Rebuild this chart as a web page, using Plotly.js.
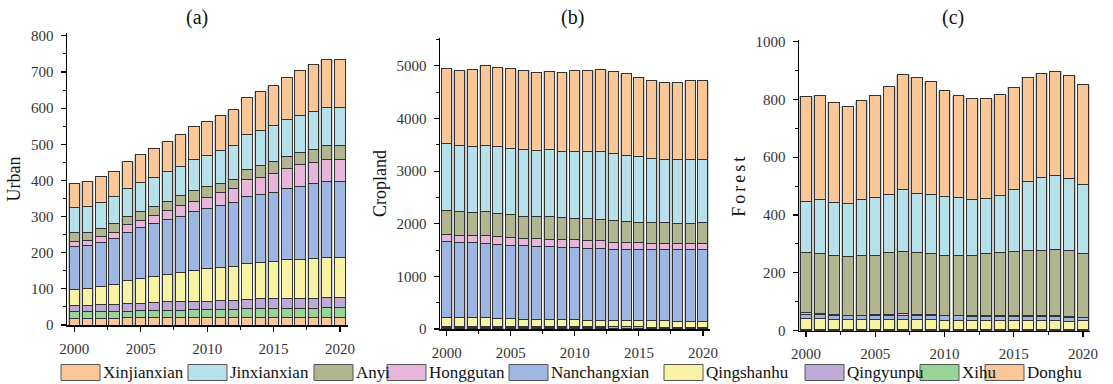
<!DOCTYPE html>
<html>
<head>
<meta charset="utf-8">
<script src="https://cdn.plot.ly/plotly-3.0.1.min.js"></script>
<style>
html, body { margin: 0; padding: 0; background: #fff; }
#chart { width: 1113px; height: 384px; }
.g-y3title text { letter-spacing: 3px; }
</style>
</head>
<body>
<div id="chart"></div>
<script>
// Years on the x axis
const years = [2000, 2001, 2002, 2003, 2004, 2005, 2006, 2007, 2008, 2009, 2010,
               2011, 2012, 2013, 2014, 2015, 2016, 2017, 2018, 2019, 2020];

// Districts, listed from the bottom of each stack to the top
const districts = ['Donghu', 'Xihu', 'Qingyunpu', 'Qingshanhu', 'Nanchangxian',
                   'Honggutan', 'Anyi', 'Jinxianxian', 'Xinjianxian'];
const districtColors = ['#FAC898', '#98D498', '#BEAAD6', '#F7F3A3', '#9DB6E2',
                        '#E8B6DA', '#B2B690', '#B6E1EA', '#FAC898'];

// (a) Urban land area by district
const urbanDonghu       = [19, 19, 19, 19, 20, 20, 20, 20, 20, 20, 21, 21, 21, 21, 21, 21, 22, 22, 22, 22, 22];
const urbanXihu         = [17, 17, 17, 18, 18, 19, 20, 21, 21, 22, 22, 23, 23, 24, 24, 25, 24, 25, 25, 26, 26];
const urbanQingyunpu    = [19, 19, 21, 20, 22, 21, 22, 23, 23, 24, 23, 24, 25, 26, 27, 26, 27, 27, 27, 27, 27];
const urbanQingshanhu   = [44, 47, 49, 55, 62, 70, 73, 76, 82, 84, 89, 90, 94, 99, 102, 104, 107, 108, 111, 112, 112];
const urbanNanchangxian = [119, 119, 123, 126, 135, 140, 145, 151, 155, 163, 167, 172, 175, 185, 188, 190, 197, 200, 207, 210, 210];
const urbanHonggutan    = [14, 14, 16, 19, 20, 20, 24, 26, 29, 30, 30, 36, 39, 47, 47, 53, 57, 61, 59, 60, 60];
const urbanAnyi         = [23, 22, 23, 23, 23, 24, 25, 26, 28, 28, 30, 26, 25, 28, 33, 33, 33, 35, 36, 39, 39];
const urbanJinxianxian  = [69, 72, 72, 75, 78, 79, 79, 81, 81, 86, 88, 91, 94, 98, 97, 99, 101, 103, 103, 105, 105];
const urbanXinjianxian  = [68, 68, 70, 69, 74, 78, 81, 83, 87, 92, 94, 98, 99, 102, 106, 111, 117, 124, 130, 133, 135];

// (b) Cropland area by district
const cropDonghu       = [15, 15, 15, 15, 14, 14, 13, 13, 12, 12, 12, 11, 11, 10, 10, 10, 9, 9, 9, 9, 9];
const cropXihu         = [12, 12, 12, 12, 11, 11, 11, 11, 10, 10, 10, 10, 10, 9, 9, 9, 9, 9, 9, 9, 9];
const cropQingyunpu    = [25, 25, 25, 25, 24, 24, 23, 23, 22, 22, 22, 21, 21, 21, 20, 20, 20, 20, 19, 19, 19];
const cropQingshanhu   = [166, 166, 166, 166, 150, 150, 139, 139, 136, 129, 129, 125, 125, 120, 121, 115, 116, 116, 110, 110, 110];
const cropNanchangxian = [1436, 1429, 1417, 1410, 1410, 1397, 1397, 1391, 1384, 1378, 1378, 1371, 1371, 1359, 1359, 1359, 1359, 1359, 1366, 1366, 1366];
const cropHonggutan    = [141, 129, 134, 148, 147, 141, 129, 135, 135, 141, 141, 141, 141, 128, 122, 122, 115, 115, 115, 115, 115];
const cropAnyi         = [449, 448, 443, 448, 443, 436, 435, 423, 436, 423, 417, 417, 411, 424, 410, 397, 404, 391, 385, 385, 398];
const cropJinxianxian  = [1277, 1265, 1264, 1271, 1264, 1265, 1272, 1265, 1271, 1266, 1272, 1279, 1285, 1266, 1254, 1247, 1209, 1203, 1203, 1216, 1203];
const cropXinjianxian  = [1422, 1416, 1448, 1505, 1505, 1512, 1498, 1480, 1492, 1499, 1536, 1530, 1555, 1555, 1543, 1505, 1479, 1454, 1460, 1485, 1491];

// (c) Forest area by district
const forestDonghu       = [1, 1, 1, 1, 1, 1, 1, 1, 1, 1, 1, 1, 1, 1, 1, 1, 1, 1, 1, 1, 1];
const forestXihu         = [1, 1, 1, 1, 1, 1, 1, 1, 1, 1, 1, 1, 1, 1, 1, 1, 1, 1, 1, 1, 1];
const forestQingyunpu    = [1, 1, 1, 1, 1, 1, 1, 1, 1, 1, 1, 1, 1, 1, 1, 1, 1, 1, 1, 1, 1];
const forestQingshanhu   = [38, 38, 36, 36, 35, 36, 36, 36, 35, 35, 33, 33, 33, 33, 33, 33, 33, 33, 33, 30, 31];
const forestNanchangxian = [16, 15, 13, 12, 13, 13, 14, 15, 16, 16, 16, 15, 14, 13, 13, 13, 13, 13, 13, 13, 10];
const forestHonggutan    = [6, 5, 4, 2, 3, 3, 4, 4, 2, 2, 2, 2, 2, 2, 2, 2, 2, 2, 2, 2, 2];
const forestAnyi         = [206, 207, 204, 203, 206, 206, 212, 216, 216, 211, 207, 208, 209, 216, 218, 223, 226, 228, 229, 229, 221];
const forestJinxianxian  = [176, 184, 184, 183, 194, 201, 203, 213, 204, 203, 203, 200, 193, 189, 199, 215, 240, 249, 255, 248, 238];
const forestXinjianxian  = [365, 360, 346, 335, 341, 351, 371, 398, 401, 391, 365, 351, 350, 346, 348, 353, 360, 362, 362, 357, 345];

const urbanSeries  = [urbanDonghu, urbanXihu, urbanQingyunpu, urbanQingshanhu, urbanNanchangxian,
                      urbanHonggutan, urbanAnyi, urbanJinxianxian, urbanXinjianxian];
const cropSeries   = [cropDonghu, cropXihu, cropQingyunpu, cropQingshanhu, cropNanchangxian,
                      cropHonggutan, cropAnyi, cropJinxianxian, cropXinjianxian];
const forestSeries = [forestDonghu, forestXihu, forestQingyunpu, forestQingshanhu, forestNanchangxian,
                      forestHonggutan, forestAnyi, forestJinxianxian, forestXinjianxian];

const panelTitles = ['(a)', '(b)', '(c)'];
const yTitles = ['Urban', 'Cropland', 'Forest'];

const W = 1113, H = 384;
const px = v => v / W;          // pixel -> paper x
const py = v => (H - v) / H;    // pixel -> paper y

const serif = '"Times New Roman", "Liberation Serif", serif';
const tickFont = { family: serif, size: 15, color: '#333' };

// Panel geometry (pixels) and axis ranges
const panels = [
  { left: 67,  right: 348,  bottom: 325,   top: 33, xr: [1999.45, 2020.6],  yr: [0, 808],  dtick: 100, series: urbanSeries },
  { left: 440, right: 710,  bottom: 329,   top: 38, xr: [1999.48, 2020.55], yr: [0, 5530], dtick: 1000, series: cropSeries },
  { left: 799, right: 1090, bottom: 330.7, top: 40, xr: [1999.49, 2020.5],  yr: [0, 1005], dtick: 200, series: forestSeries }
];

function xAxis(p, anchor) {
  return {
    domain: [px(p.left), px(p.right)], range: p.xr, anchor: anchor,
    tickmode: 'linear', tick0: 2000, dtick: 5,
    ticks: 'outside', ticklen: 5, tickwidth: 1.2, tickcolor: '#000',
    minor: { tick0: 2000, dtick: 2.5, ticks: 'outside', ticklen: 3, tickcolor: '#000', tickwidth: 1 },
    showline: true, linecolor: '#000', linewidth: 1.5,
    showgrid: false, zeroline: false,
    tickfont: tickFont, ticklabelstandoff: 4, fixedrange: true
  };
}
function yAxis(p, anchor, title) {
  return {
    domain: [py(p.bottom), py(p.top)], range: p.yr, anchor: anchor,
    tickmode: 'linear', tick0: 0, dtick: p.dtick,
    ticks: 'outside', ticklen: 5, tickwidth: 1.2, tickcolor: '#000',
    minor: { dtick: p.dtick / 2, ticks: 'outside', ticklen: 3, tickcolor: '#000', tickwidth: 1 },
    showline: true, linecolor: '#000', linewidth: 1.5,
    showgrid: false, zeroline: false,
    tickfont: tickFont, ticklabelstandoff: 4,
    title: { text: title, font: { family: serif, size: 18, color: '#111' }, standoff: 5 },
    fixedrange: true
  };
}
// Invisible twin axes that carry the coloured stacks above the soft grey bar halo
function twinX(p, base, anchor) {
  return { domain: [px(p.left), px(p.right)], range: p.xr, overlaying: base, anchor: anchor,
           visible: false, fixedrange: true };
}
function twinY(p, base, anchor) {
  return { domain: [py(p.bottom), py(p.top)], range: p.yr, overlaying: base, anchor: anchor,
           visible: false, fixedrange: true };
}

const layout = {
  width: W, height: H,
  margin: { l: 0, r: 0, t: 0, b: 0 },
  paper_bgcolor: '#fff', plot_bgcolor: 'rgba(0,0,0,0)',
  barmode: 'stack',
  showlegend: false,
  annotations: [],
  shapes: []
};

const traces = [];
panels.forEach((p, k) => {
  const s = k === 0 ? '' : String(k + 1);      // base axes: x, x2, x3
  const t = String(k + 4);                     // twin axes: x4, x5, x6
  layout['xaxis' + s] = xAxis(p, 'y' + s);
  layout['yaxis' + s] = yAxis(p, 'x' + s, yTitles[k]);
  layout['xaxis' + t] = twinX(p, 'x' + s, 'y' + t);
  layout['yaxis' + t] = twinY(p, 'y' + s, 'x' + t);

  // grey halo behind every stacked column, as tall as the column total
  const totals = years.map((_, j) => p.series.reduce((acc, arr) => acc + arr[j], 0));
  traces.push({
    type: 'bar', x: years, y: totals, width: 0.95,
    xaxis: 'x' + s, yaxis: 'y' + s,
    marker: { color: '#cdcdcd', line: { width: 0 } },
    showlegend: false, hoverinfo: 'skip'
  });

  p.series.forEach((vals, i) => {
    traces.push({
      type: 'bar', x: years, y: vals, width: 0.78,
      name: districts[i],
      xaxis: 'x' + t, yaxis: 'y' + t,
      marker: { color: districtColors[i], line: { color: '#333', width: 1 } },
      showlegend: false,
      hovertemplate: districts[i] + ' %{x}: %{y}<extra></extra>'
    });
  });
});

// Panel letters above each chart
const titleX = [197, 572, 953];
panelTitles.forEach((txt, i) => {
  layout.annotations.push({
    text: txt, xref: 'paper', yref: 'paper', x: px(titleX[i]), y: py(17),
    xanchor: 'center', yanchor: 'middle', showarrow: false,
    font: { family: serif, size: 20, color: '#111' }
  });
});

// Legend row along the bottom, topmost district first
const legendSwatchLeft = [61, 188, 314, 387, 509, 664, 805, 920, 985];
const swatchW = 39, swatchH = 16, legendY = 372.5;
for (let n = 0; n < districts.length; n++) {
  const i = districts.length - 1 - n;
  const x0 = legendSwatchLeft[n];
  layout.shapes.push({
    type: 'rect', xref: 'paper', yref: 'paper',
    x0: px(x0), x1: px(x0 + swatchW),
    y0: py(legendY + swatchH / 2), y1: py(legendY - swatchH / 2),
    fillcolor: districtColors[i], line: { color: '#555', width: 1 }
  });
  layout.annotations.push({
    text: districts[i], xref: 'paper', yref: 'paper',
    x: px(x0 + swatchW + 1), y: py(legendY), xanchor: 'left', yanchor: 'middle',
    showarrow: false, font: { family: serif, size: 17, color: '#111' }
  });
}

Plotly.newPlot('chart', traces, layout, { displayModeBar: false, staticPlot: true });
</script>
</body>
</html>
